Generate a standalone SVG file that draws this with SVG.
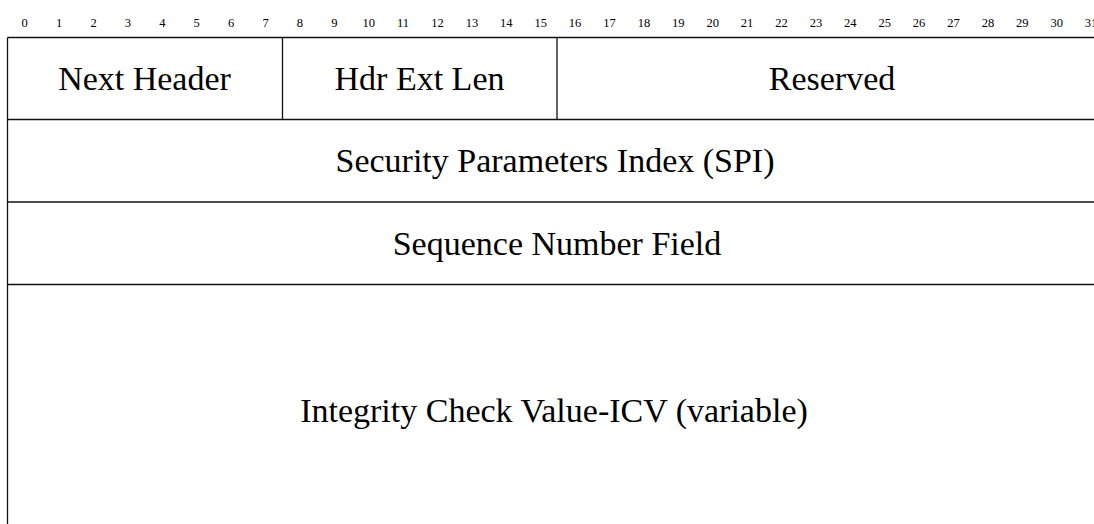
<svg xmlns="http://www.w3.org/2000/svg" width="1094" height="524" viewBox="0 0 1094 524">
  <style>
    .bit { font-family: "Liberation Serif", "Times New Roman", serif; font-size: 12.5px; fill: #000; text-anchor: middle; }
    .lbl { font-family: "Liberation Serif", "Times New Roman", serif; font-size: 34px; fill: #000; text-anchor: middle; }
    .rule { stroke: #111; stroke-width: 1.3; fill: none; }
  </style>
  <rect width="1094" height="524" fill="#fff"/>

  <!-- bit offsets, 34.4px per bit starting at x=7.5 -->
  <g id="bit-ruler">
    <text class="bit" x="24.7" y="27.3">0</text>
    <text class="bit" x="59.1" y="27.3">1</text>
    <text class="bit" x="93.5" y="27.3">2</text>
    <text class="bit" x="127.9" y="27.3">3</text>
    <text class="bit" x="162.3" y="27.3">4</text>
    <text class="bit" x="196.7" y="27.3">5</text>
    <text class="bit" x="231.1" y="27.3">6</text>
    <text class="bit" x="265.5" y="27.3">7</text>
    <text class="bit" x="299.9" y="27.3">8</text>
    <text class="bit" x="334.3" y="27.3">9</text>
    <text class="bit" x="368.7" y="27.3">10</text>
    <text class="bit" x="403.1" y="27.3">11</text>
    <text class="bit" x="437.5" y="27.3">12</text>
    <text class="bit" x="471.9" y="27.3">13</text>
    <text class="bit" x="506.3" y="27.3">14</text>
    <text class="bit" x="540.7" y="27.3">15</text>
    <text class="bit" x="575.1" y="27.3">16</text>
    <text class="bit" x="609.5" y="27.3">17</text>
    <text class="bit" x="643.9" y="27.3">18</text>
    <text class="bit" x="678.3" y="27.3">19</text>
    <text class="bit" x="712.7" y="27.3">20</text>
    <text class="bit" x="747.1" y="27.3">21</text>
    <text class="bit" x="781.5" y="27.3">22</text>
    <text class="bit" x="815.9" y="27.3">23</text>
    <text class="bit" x="850.3" y="27.3">24</text>
    <text class="bit" x="884.7" y="27.3">25</text>
    <text class="bit" x="919.1" y="27.3">26</text>
    <text class="bit" x="953.5" y="27.3">27</text>
    <text class="bit" x="987.9" y="27.3">28</text>
    <text class="bit" x="1022.3" y="27.3">29</text>
    <text class="bit" x="1056.7" y="27.3">30</text>
    <text class="bit" x="1091.1" y="27.3">31</text>
  </g>

  <!-- field borders -->
  <g id="borders" class="rule">
    <line x1="7.5" y1="37.5" x2="1110" y2="37.5"/>
    <line x1="7.5" y1="119.5" x2="1110" y2="119.5"/>
    <line x1="7.5" y1="202" x2="1110" y2="202"/>
    <line x1="7.5" y1="284.5" x2="1110" y2="284.5"/>
    <line x1="7.5" y1="37.5" x2="7.5" y2="540"/>
    <line x1="282.5" y1="37.5" x2="282.5" y2="119.5"/>
    <line x1="557" y1="37.5" x2="557" y2="119.5"/>
  </g>

  <g id="next-header"><text class="lbl" x="144.5" y="89.5">Next Header</text></g>
  <g id="hdr-ext-len"><text class="lbl" x="419.5" y="89.5">Hdr Ext Len</text></g>
  <g id="reserved"><text class="lbl" x="832" y="89.5">Reserved</text></g>
  <g id="spi"><text class="lbl" x="555" y="172">Security Parameters Index (SPI)</text></g>
  <g id="sequence-number"><text class="lbl" x="557" y="254.5">Sequence Number Field</text></g>
  <g id="icv"><text class="lbl" x="554" y="421.5">Integrity Check Value-ICV (variable)</text></g>
</svg>
